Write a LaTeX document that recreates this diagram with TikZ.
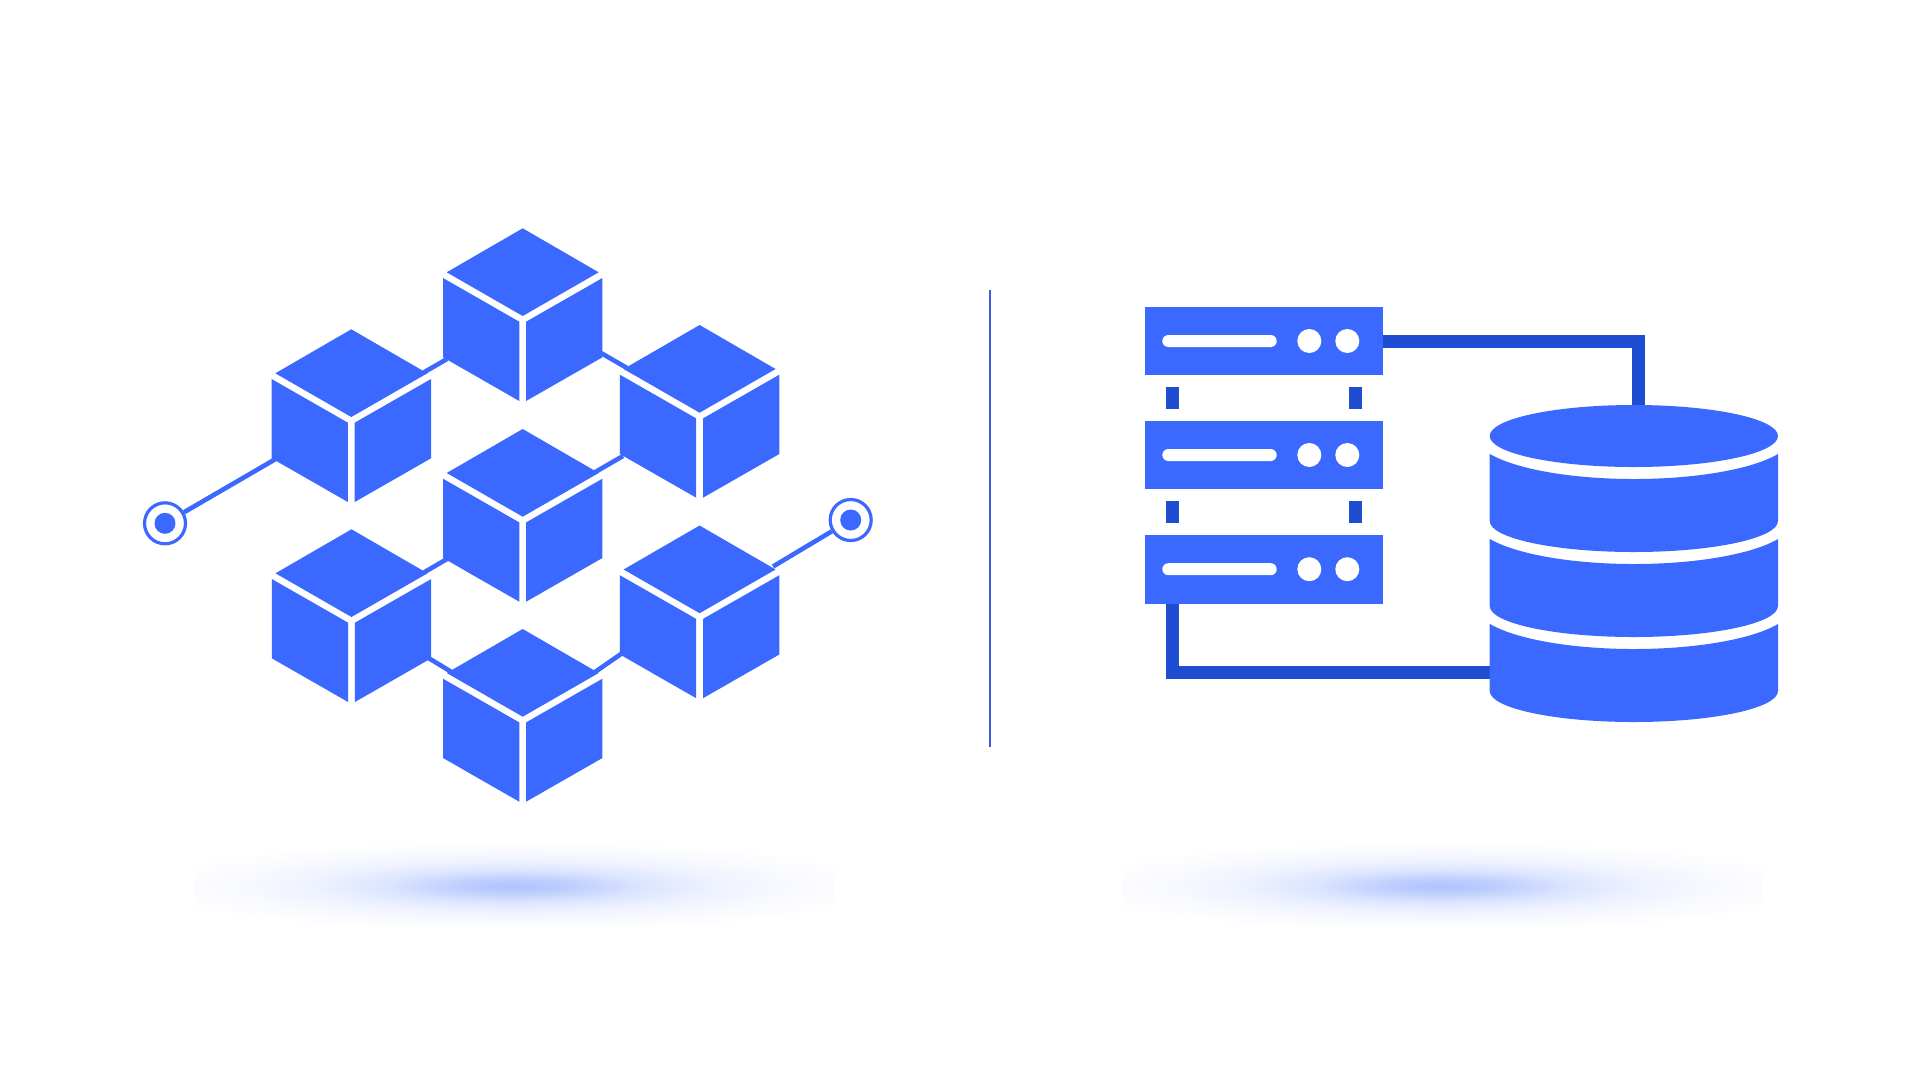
\documentclass[tikz,border=0pt]{standalone}
\definecolor{brandblue}{HTML}{3B69FF}
\definecolor{wireblue}{HTML}{1F4DD2}
\definecolor{axisblue}{HTML}{3D5BD8}
\definecolor{glowa}{HTML}{AFC3FD}
\definecolor{glowb}{HTML}{BCCDFE}
\definecolor{glowc}{HTML}{DCE5FF}
\definecolor{glowd}{HTML}{EFF3FF}
\definecolor{glowe}{HTML}{F9FAFF}
\pgfdeclareradialshading{glow}{\pgfpointorigin}{
  color(0bp)=(glowa); color(4bp)=(glowb); color(10bp)=(glowc);
  color(16bp)=(glowd); color(22bp)=(glowe); color(29bp)=(white); color(100bp)=(white)}
\tikzset{
  cube/.pic={
    \fill[brandblue] (0,0) -- (-76,44) -- (0,87.7) -- (76,44) -- cycle;
    \fill[brandblue] (-79.7,49.7) -- (-3.4,93.4) -- (-3.4,172.7) -- (-79.7,129) -- cycle;
    \fill[brandblue] (79.7,49.7) -- (3.4,93.4) -- (3.4,172.7) -- (79.7,129) -- cycle;
  },
  link/.style={draw=brandblue,line width=4.6pt},
  target/.style={circle,draw=brandblue,line width=3.2pt,fill=white,minimum size=41pt,inner sep=0pt},
  dot/.style={circle,fill=brandblue,minimum size=21pt,inner sep=0pt},
  rack/.style={fill=brandblue,minimum width=237.7pt,minimum height=68.3pt,inner sep=0pt,anchor=north west},
  wire/.style={draw=wireblue,line width=13pt,miter limit=10},
  post/.style={fill=wireblue,minimum width=12.4pt,minimum height=22pt,inner sep=0pt},
  pill/.style={fill=white,rounded corners=6pt},
  lamp/.style={circle,fill=white,minimum size=24pt,inner sep=0pt},
  glowspot/.style={shading=glow,draw=none},
}
\begin{document}
\begin{tikzpicture}[x=1pt,y=-1pt]
\useasboundingbox (0,0) rectangle (1920,1080);
\fill[white] (0,0) rectangle (1920,1080);
% glows
\shade[glowspot] (194,846) rectangle (834,926);
\shade[glowspot] (1122,846) rectangle (1762,926);
% divider
\draw[axisblue,line width=1.6pt] (989.7,290) -- (989.7,747);
% left block links
\node[target] (t1) at (165,523.3) {};
\node[target] (t2) at (850.7,520) {};
\coordinate (l1a) at (276,458.8);
\coordinate (r2a) at (773,566.5);
\coordinate (a1) at (424,372.3); \coordinate (a2) at (447,359);
\coordinate (b1) at (601,353); \coordinate (b2) at (627,368);
\coordinate (c1) at (595,472.2); \coordinate (c2) at (623,456);
\coordinate (d1) at (424,572.4); \coordinate (d2) at (447,559);
\coordinate (e1) at (429,658.3); \coordinate (e2) at (451,671.7);
\coordinate (f1) at (595,672); \coordinate (f2) at (622,653.3);
\draw[link] (t1) -- (l1a);
\draw[link] (t2) -- (r2a);
\draw[link] (a1) -- (a2);
\draw[link] (b1) -- (b2);
\draw[link] (c1) -- (c2);
\draw[link] (d1) -- (d2);
\draw[link] (e1) -- (e2);
\draw[link] (f1) -- (f2);
\node[dot] (t1d) at (t1) {};
\node[dot] (t2d) at (t2) {};
% cubes
\pic at (522.7,228.3) {cube};
\pic at (351.3,329.3) {cube};
\pic at (699.6,325) {cube};
\pic at (522.7,429) {cube};
\pic at (351.5,529.3) {cube};
\pic at (699.6,525.5) {cube};
\pic at (522.7,629) {cube};
% wires (behind racks and database)
\coordinate (w1) at (1375,341.2); \coordinate (w2) at (1638.5,341.2); \coordinate (w3) at (1638.5,420);
\coordinate (w4) at (1172.7,590); \coordinate (w5) at (1172.7,672.7); \coordinate (w6) at (1500,672.7);
\draw[wire] (w1) -- (w2) -- (w3);
\draw[wire] (w4) -- (w5) -- (w6);
% racks
\node[rack] (s1) at (1145,306.8) {};
\node[rack] (s2) at (1145,420.8) {};
\node[rack] (s3) at (1145,535) {};
\foreach \n/\y in {s1/341,s2/455,s3/569.2}{
  \fill[pill] (1162.3,\y-6) rectangle (1276.7,\y+6);
  \node[lamp] at (1309.3,\y) {};
  \node[lamp] at (1347.3,\y) {};
}
\node[post] (p1) at (1172.5,398) {};
\node[post] (p2) at (1355.3,398) {};
\node[post] (p3) at (1172.5,512.3) {};
\node[post] (p4) at (1355.3,512.3) {};
% database
\foreach \top/\bot in {454/521,539/606,624/691}{
  \fill[brandblue] (1489.7,\top) -- (1489.7,\bot)
    arc[start angle=180,end angle=360,x radius=144.15pt,y radius=31pt]
    -- (1778,\top)
    arc[start angle=-24.75,end angle=-155.25,x radius=158.6pt,y radius=43pt] -- cycle;
}
\fill[brandblue] (1633.85,436) ellipse[x radius=144.15pt,y radius=31pt];
\end{tikzpicture}
\end{document}
